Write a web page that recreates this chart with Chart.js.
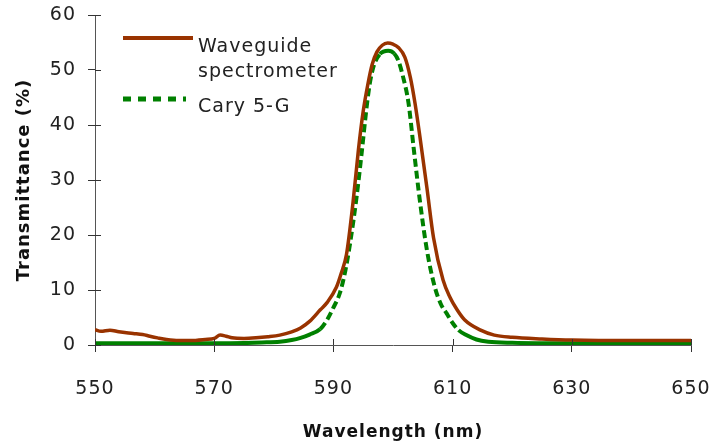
<!DOCTYPE html>
<html>
<head>
<meta charset="utf-8">
<script src="https://cdn.jsdelivr.net/npm/chart.js@4"></script>
<style>
  html, body { margin: 0; padding: 0; background: #fff; }
  #wrap { width: 712px; height: 445px; position: relative; }
</style>
</head>
<body>
<div id="wrap"><canvas id="chart"></canvas></div>
<script>
// Waveguide spectrometer (nm, %)
const wgWave = [550, 551, 552.5, 554, 556.4, 558, 559.2, 560.5, 562, 564, 566, 568.5, 570, 571, 572, 573, 575, 577, 579, 581, 583, 584.5, 586, 587.8, 589, 590.5, 591.3, 592.2, 593.3, 594.2, 595, 595.8, 596.5, 597.3, 598.2, 599.1, 600, 600.9, 602, 602.9, 603.7, 604.5, 605.7, 606.8, 608.4, 609.6, 610.7, 612, 614.7, 617, 620, 625, 630, 640, 650];
const wgValue = [2.8, 2.5, 2.7, 2.4, 2.1, 1.9, 1.6, 1.3, 1.0, 0.8, 0.8, 1.0, 1.2, 1.8, 1.6, 1.3, 1.2, 1.3, 1.5, 1.8, 2.4, 3.1, 4.3, 6.4, 7.8, 10.5, 13.0, 16.5, 26.0, 35.5, 42.5, 47.5, 51.0, 53.3, 54.5, 54.9, 54.7, 54.1, 52.3, 48.7, 43.9, 38.0, 28.5, 19.5, 11.8, 8.6, 6.5, 4.6, 2.7, 1.8, 1.4, 1.1, 0.9, 0.8, 0.8];

// Cary 5-G (nm, %)
const caryWave = [550, 560, 570, 575, 578, 581, 583, 584.5, 586, 587.8, 588.9, 590, 591.1, 592, 592.8, 593.9, 594.7, 595.6, 596.1, 596.7, 597.8, 599.2, 600.2, 600.9, 601.7, 602.6, 603.5, 604.5, 605.7, 607, 608, 609, 610, 611, 612.3, 614, 616, 620, 630, 650];
const caryValue = [0.3, 0.3, 0.3, 0.35, 0.45, 0.6, 0.9, 1.3, 1.9, 2.9, 4.5, 6.8, 9.5, 13.5, 18.5, 27.0, 34.5, 43.5, 47.5, 50.5, 52.9, 53.5, 53.0, 51.7, 48.7, 44.0, 35.5, 26.3, 17.2, 10.6, 7.5, 5.75, 4.0, 2.7, 1.8, 1.0, 0.6, 0.4, 0.3, 0.3];

const seriesNames = ['Waveguide\nspectrometer', 'Cary 5-G'];
const xTicks = [550, 570, 590, 610, 630, 650];
const yTicks = [0, 10, 20, 30, 40, 50, 60];

const brown = '#993300';
const green = '#008000';
const labelFont = { family: 'DejaVu Sans', size: 19 };

// the original text is a bit spaced out
const spacing = {
  id: 'spacing',
  beforeLayout(chart) { chart.ctx.letterSpacing = '1px'; },
  beforeDraw(chart) { chart.ctx.letterSpacing = '1px'; }
};

// ticks crossing the axis lines
const crossTicks = {
  id: 'crossTicks',
  afterDraw(chart) {
    const ctx = chart.ctx, x = chart.scales.x, y = chart.scales.y;
    ctx.save();
    ctx.strokeStyle = '#333';
    ctx.lineWidth = 1;
    ctx.beginPath();
    xTicks.forEach(v => {
      const px = Math.round(x.getPixelForValue(v)) + 0.5;
      ctx.moveTo(px, y.bottom - 6);
      ctx.lineTo(px, y.bottom);
    });
    yTicks.forEach(v => {
      const py = Math.round(y.getPixelForValue(v)) + 0.5;
      ctx.moveTo(x.left, py);
      ctx.lineTo(x.left + 6, py);
    });
    ctx.stroke();
    ctx.restore();
  }
};

// legend inside the plot, top left
const insideLegend = {
  id: 'insideLegend',
  afterDraw(chart) {
    const ctx = chart.ctx;
    ctx.save();
    ctx.font = '19px "DejaVu Sans"';
    ctx.fillStyle = '#222';
    ctx.textBaseline = 'middle';
    ctx.lineCap = 'butt';
    ctx.strokeStyle = brown;
    ctx.lineWidth = 4;
    ctx.beginPath();
    ctx.moveTo(123, 38);
    ctx.lineTo(193, 38);
    ctx.stroke();
    const lines = seriesNames[0].split('\n');
    ctx.fillText(lines[0], 198, 47);
    ctx.fillText(lines[1], 198, 72);
    ctx.strokeStyle = green;
    ctx.lineWidth = 5;
    ctx.setLineDash([8, 7]);
    ctx.beginPath();
    ctx.moveTo(123, 99);
    ctx.lineTo(186, 99);
    ctx.stroke();
    ctx.setLineDash([]);
    ctx.fillText(seriesNames[1], 198, 107);
    ctx.restore();
  }
};

new Chart(document.getElementById('chart'), {
  type: 'line',
  data: {
    datasets: [{
      label: seriesNames[0],
      data: wgWave.map((w, i) => ({ x: w, y: wgValue[i] })),
      borderColor: brown,
      borderWidth: 3.5,
      pointRadius: 0,
      cubicInterpolationMode: 'monotone',
      fill: false
    }, {
      label: seriesNames[1],
      data: caryWave.map((w, i) => ({ x: w, y: caryValue[i] })),
      borderColor: green,
      borderWidth: 4,
      borderDash: [],
      // dense-sampled dashes only show up on the steep flanks
      segment: {
        borderDash: ctx => Math.abs(ctx.p1.parsed.y - ctx.p0.parsed.y) > 1 ? [8, 4] : undefined
      },
      pointRadius: 0,
      cubicInterpolationMode: 'monotone',
      fill: false
    }]
  },
  options: {
    responsive: true,
    maintainAspectRatio: false,
    animation: false,
    layout: { padding: { top: 15, right: 21, left: 0, bottom: 0 } },
    scales: {
      x: {
        type: 'linear',
        min: 550, max: 650,
        afterBuildTicks: s => { s.ticks = xTicks.map(v => ({ value: v })); },
        afterFit: s => { s.height = 100; s.paddingLeft = 0; s.paddingRight = 0; },
        grid: { display: true, drawOnChartArea: false, tickLength: 7, color: '#333' },
        border: { color: '#555', width: 1 },
        ticks: { color: '#222', font: labelFont, padding: 26, maxRotation: 0 },
        title: { display: true, text: 'Wavelength (nm)', color: '#111', font: { family: 'DejaVu Sans', size: 17, weight: 'bold' }, padding: { top: 18, bottom: 2 } }
      },
      y: {
        min: 0, max: 60,
        afterBuildTicks: s => { s.ticks = yTicks.map(v => ({ value: v })); },
        afterFit: s => { s.width = 95; s.paddingTop = 0; s.paddingBottom = 0; },
        grid: { display: true, drawOnChartArea: false, tickLength: 7, color: '#333' },
        border: { color: '#555', width: 1 },
        ticks: { color: '#222', font: labelFont, padding: 12 },
        title: { display: true, text: 'Transmittance (%)', color: '#111', font: { family: 'DejaVu Sans', size: 18, weight: 'bold' }, padding: { top: 14, bottom: 4 } }
      }
    },
    plugins: { legend: { display: false }, tooltip: { enabled: false } }
  },
  plugins: [spacing, crossTicks, insideLegend]
});
</script>
</body>
</html>
